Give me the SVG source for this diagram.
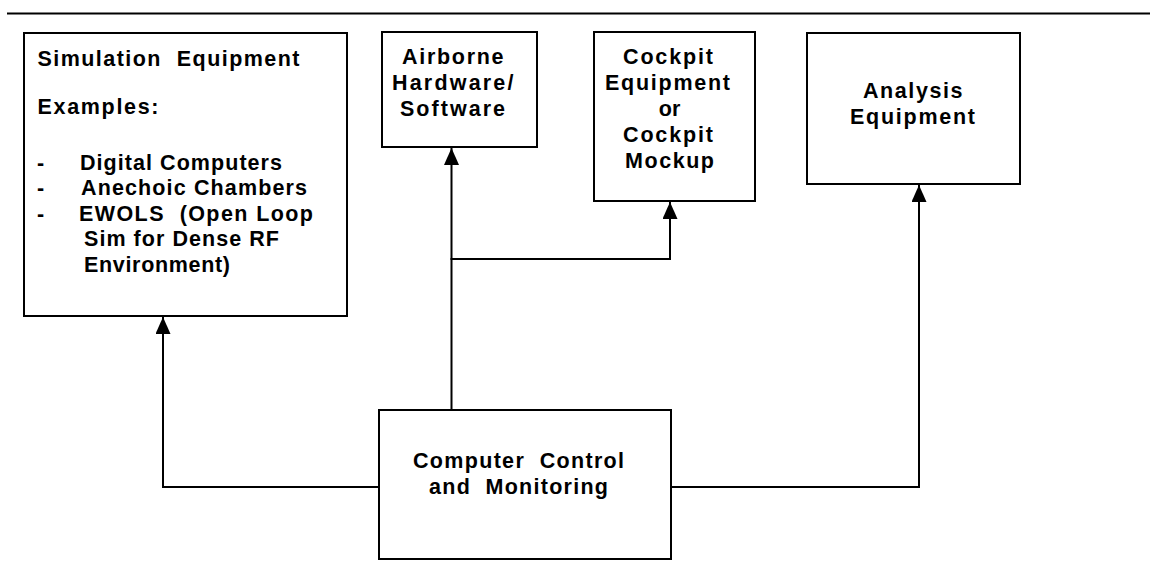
<svg xmlns="http://www.w3.org/2000/svg" width="1150" height="577" viewBox="0 0 1150 577">
<style>
  .box { fill: #fff; stroke: #000; stroke-width: 2; }
  .t { font-family: "Liberation Sans", Arial, sans-serif; font-weight: bold; font-size: 21.5px; fill: #000; }
  .c { fill: none; stroke: #000; stroke-width: 2; }
  .rule { stroke: #000; stroke-width: 2; }
</style>
<defs>
  <marker id="arr" markerUnits="userSpaceOnUse" markerWidth="17" markerHeight="15" refX="17" refY="7.5" orient="auto">
    <path d="M0,0 L17,7.5 L0,15 Z" fill="#000"/>
  </marker>
</defs>
<rect width="1150" height="577" fill="#fff"/>
<line class="rule" x1="7" y1="13.5" x2="1150" y2="13.5"/>

<g id="connectors">
  <path class="c" d="M379,487 H163 V317" marker-end="url(#arr)"/>
  <path class="c" d="M451.5,410 V148" marker-end="url(#arr)"/>
  <path class="c" d="M450.5,259 H670 V202" marker-end="url(#arr)"/>
  <path class="c" d="M671,487 H919 V185" marker-end="url(#arr)"/>
</g>

<g id="simulation">
  <rect class="box" x="24" y="33" width="323" height="283"/>
  <text class="t" x="37.5" y="65.5" textLength="262" xml:space="preserve">Simulation  Equipment</text>
  <text class="t" x="37.5" y="114" textLength="121">Examples:</text>
  <text class="t" x="37" y="169.5">-</text>
  <text class="t" x="80" y="169.5" textLength="202">Digital Computers</text>
  <text class="t" x="37" y="195">-</text>
  <text class="t" x="81" y="195" textLength="226">Anechoic Chambers</text>
  <text class="t" x="37" y="220.5">-</text>
  <text class="t" x="79" y="220.5" textLength="234" xml:space="preserve">EWOLS  (Open Loop</text>
  <text class="t" x="84" y="246" textLength="195">Sim for Dense RF</text>
  <text class="t" x="84" y="271.5" textLength="146">Environment)</text>
</g>

<g id="airborne">
  <rect class="box" x="382" y="32" width="155" height="115"/>
  <text class="t" x="402" y="64" textLength="101.5">Airborne</text>
  <text class="t" x="392" y="90" textLength="121.5">Hardware/</text>
  <text class="t" x="400" y="116" textLength="105">Software</text>
</g>

<g id="cockpit">
  <rect class="box" x="594" y="32" width="161" height="169"/>
  <text class="t" x="623" y="64" textLength="90">Cockpit</text>
  <text class="t" x="605" y="90" textLength="125">Equipment</text>
  <text class="t" x="669.5" y="116" text-anchor="middle">or</text>
  <text class="t" x="623" y="142" textLength="90">Cockpit</text>
  <text class="t" x="625" y="168" textLength="89">Mockup</text>
</g>

<g id="analysis">
  <rect class="box" x="807" y="33" width="213" height="151"/>
  <text class="t" x="863" y="98" textLength="99.5">Analysis</text>
  <text class="t" x="850" y="124" textLength="125">Equipment</text>
</g>

<g id="computer">
  <rect class="box" x="379" y="410" width="292" height="149"/>
  <text class="t" x="413" y="468" textLength="211" xml:space="preserve">Computer  Control</text>
  <text class="t" x="429" y="494" textLength="179" xml:space="preserve">and  Monitoring</text>
</g>
</svg>
